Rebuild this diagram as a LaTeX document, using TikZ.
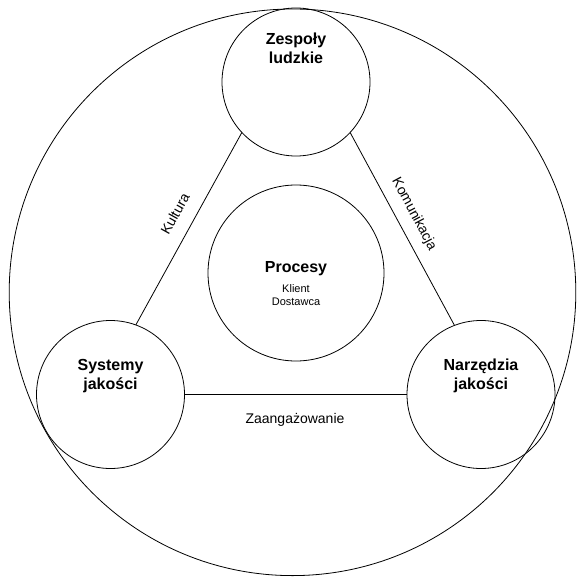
\documentclass[tikz,border=0pt]{standalone}
\usepackage{fontspec}
\setmainfont{Liberation Sans}
\usepackage{tikz}
\tikzset{
  area/.style={draw,circle,line width=0.8pt,inner sep=0pt,outer sep=0pt,minimum size=148pt},
  core/.style={area,minimum size=176pt},
  title/.style={font=\fontsize{16}{19}\selectfont\bfseries,align=center,anchor=base},
  small/.style={font=\fontsize{11}{13.3}\selectfont,align=center,anchor=base},
  tie/.style={font=\fontsize{14}{17}\selectfont}
}

\begin{document}
\begin{tikzpicture}[x=1pt,y=-1pt]
  \useasboundingbox (0,0) rectangle (577,580);
  \node[draw,circle,line width=0.8pt,inner sep=0pt,minimum size=566.6pt] (all) at (292.5,292.3) {}; % outer circle

  %draw circles
  \node[area] (zes) at (296,82) {};
  \node[area] (sys) at (110.5,394.5) {};
  \node[area] (nar) at (481,394.5) {};
  \node[core] (pro) at (296,273) {};

  %draw connectors
  \draw[line width=0.8pt] (zes.223.4) -- (sys.70.6);
  \draw[line width=0.8pt] (zes.317.7) -- (nar.111.2);
  \draw[line width=0.8pt] (sys.east) -- (nar.west);

  %draw labels
  \node[title] (zestxt) at (296,64) {Zespoły\\ludzkie};
  \node[title] (systxt) at (110.5,389.3) {Systemy\\jakości};
  \node[title] (nartxt) at (481,389.3) {Narzędzia\\jakości};
  \node[title] (protxt) at (296,272.3) {Procesy};
  \node[small] (prosub) at (296,305.7) {Klient\\Dostawca};

  \node[tie,rotate=61] (kul) at (175,214) {Kultura};
  \node[tie,rotate=-62] (kom) at (414,214.5) {Komunikacja};
  \node[tie,anchor=base] (zaa) at (295,423) {Zaangażowanie};
\end{tikzpicture}
\end{document}
